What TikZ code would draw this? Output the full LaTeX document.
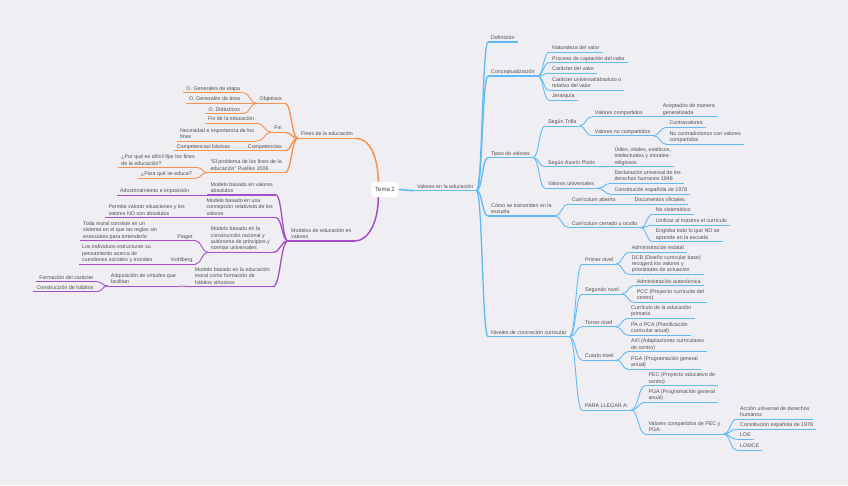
\documentclass[tikz,border=0pt]{standalone}
\usepackage{fontspec}
\setmainfont{Liberation Sans}
\usepackage{xcolor}
\usepackage{tikz}
\usetikzlibrary{calc}

\definecolor{skyb}{RGB}{96,186,246}
\definecolor{orng}{RGB}{246,146,78}
\definecolor{purp}{RGB}{166,78,200}
\definecolor{txt}{RGB}{80,80,80}
\definecolor{bgcol}{RGB}{238,238,243}

\begin{document}
\begin{tikzpicture}[
    x=1pt, y=-1pt,
    every node/.style={font=\fontsize{5.3}{6.4}\selectfont, text=txt},
    topic/.style 2 args={align=left, inner xsep=3pt, inner ysep=1pt,
      execute at end node={\rule[-1.2pt]{0pt}{1pt}},
      append after command={(\tikzlastnode.south west) edge[draw=#1, line width=#2] (\tikzlastnode.south east)}},
    main/.style={topic={#1}{1.5pt}, anchor=south west},
    bm/.style={topic={skyb}{1.1pt}, anchor=south west},
    bt/.style={topic={skyb}{0.8pt}, anchor=south west},
    om/.style={topic={orng}{1.1pt}, anchor=south east},
    ot/.style={topic={orng}{0.8pt}, anchor=south east},
    pm/.style={topic={purp}{1.1pt}, anchor=south east},
    pt/.style={topic={purp}{0.8pt}, anchor=south east},
    root/.style={fill=white, rounded corners=3pt, minimum width=27pt, minimum height=15pt,
      inner sep=1pt, font=\fontsize{6}{7}\selectfont, text=black!75},
    lk/.style={draw=#1, to path={let \p1=(\tikztostart), \p2=(\tikztotarget),
      \n1={(\x2-\x1)/2}, \n2={(\x1-\x2)/2} in
      .. controls +(\n1,0) and +(\n2,0) .. (\tikztotarget)}},
  ]

  \fill[bgcol] (0,0) rectangle (848,485);
  \useasboundingbox (0,0) rectangle (848,485);

  % ---- centre ----
  \node[root] (tema) at (385,189.5) {Tema 2};

  % ---- Valores en la educacion ----
  \node[main=skyb] (valores) at (414,190.7) {Valores en la educación};
  \node[bm] (defin) at (488,42) {Definición};
  \node[bm] (concept) at (488,76) {Conceptualización};
  \node[bt] (natur) at (549,52.3) {Naturaleza del valor};
  \node[bt] (proces) at (549,62.7) {Proceso de captación del valor};
  \node[bt] (caract) at (549,73.3) {Carácter del valor};
  \node[bt] (univ) at (549,90) {Carácter universal/absoluto o\\relativo del valor};
  \node[bt] (jerar) at (549,100) {Jerarquía};

  \node[bm] (tipos) at (488,157.7) {Tipos de valores};
  \node[bt] (trilla) at (545,126) {Según Trilla};
  \node[bt] (vcomp) at (591.7,116.7) {Valores compartidos};
  \node[bt] (acept) at (659.7,116.7) {Aceptados de manera\\generalizada};
  \node[bt] (vnocomp) at (591.7,135.7) {Valores no compartidos};
  \node[bt] (contra) at (666.3,127.3) {Contravalores};
  \node[bt] (nocontra) at (666.3,144.3) {No contradictorios con valores\\compartidos};
  \node[bt] (azorin) at (545,166.7) {Según Azorín Pinós};
  \node[bt] (utiles) at (611.3,166.5) {Útiles, vitales, estéticos,\\intelectuales y morales-\\religiosos};
  \node[bt] (vuniv) at (545,188.3) {Valores universales};
  \node[bt] (declar) at (611.3,183.3) {Declaración universal de los\\derechos humanos 1948};
  \node[bt] (constA) at (611.3,194.3) {Constitución española de 1978};

  \node[bm] (transm) at (488,216) {Cómo se transmiten en la\\escuela};
  \node[bt] (abierto) at (568.7,204) {Currículum abierto};
  \node[bt] (docof) at (631.3,204) {Documentos oficiales};
  \node[bt] (cerrado) at (568.7,227.7) {Currículum cerrado u oculto};
  \node[bt] (nosist) at (652.7,214.3) {No sistemático};
  \node[bt] (unific) at (652.7,225.3) {Unificar al máximo el currículo};
  \node[bt] (englob) at (652.7,241.7) {Engloba todo lo que NO se\\aprende en la escuela};

  \node[bm] (niveles) at (488,336.7) {Niveles de concreción curricular};
  \node[bt] (primer) at (582,264) {Primer nivel};
  \node[bt] (admest) at (628.7,252.3) {Administración estatal};
  \node[bt] (dcb) at (628.7,274.3) {DCB (Diseño curricular base)\\recogerá los valores y\\prioridades de actuación};
  \node[bt] (segundo) at (582,294) {Segundo nivel};
  \node[bt] (admaut) at (633.7,285.7) {Administración autonómica};
  \node[bt] (pcc) at (633.7,302.3) {PCC (Proyecto curricular del\\centro)};
  \node[bt] (tercer) at (582,326.7) {Tercer nivel};
  \node[bt] (curric) at (628,318.3) {Currículo de la educación\\primaria};
  \node[bt] (pa) at (628,335) {PA o PCA (Planificación\\curricular anual)};
  \node[bt] (cuarto) at (582,360) {Cuarto nivel};
  \node[bt] (axi) at (628,351.7) {AXI (Adaptaciones curriculares\\de centro)};
  \node[bt] (pgaA) at (628,369.3) {PGA (Programación general\\anual)};
  \node[bt] (llegar) at (582,410) {PARA LLEGAR A:};
  \node[bt] (pec) at (645.3,385.7) {PEC (Proyecto educativo de\\centro)};
  \node[bt] (pgaB) at (645.3,402.3) {PGA (Programación general\\anual)};
  \node[bt] (vcpec) at (645.3,434) {Valores compartidos de PEC y\\PGA:};
  \node[bt] (accion) at (737,419) {Acción universal de derechos\\humanos};
  \node[bt] (constB) at (737,429.3) {Constitución española de 1978};
  \node[bt] (loe) at (737,439.3) {LOE};
  \node[bt] (lomce) at (737,450) {LOMCE};

  % ---- Fines de la educacion ----
  \node[main=orng] (fines) at (298,138.3) {Fines de la educación};
  \node[om] (objet) at (285,103.3) {Objetivos};
  \node[ot] (ogetapa) at (243.3,92.7) {O. Generales de etapa};
  \node[ot] (ogarea) at (243.3,103.3) {O. Generales de área};
  \node[ot] (odidac) at (243.3,113.7) {O. Didácticos};
  \node[om] (fin) at (285,132.3) {Fin};
  \node[ot] (finedu) at (257.3,123.3) {Fin de la educación};
  \node[ot] (neces) at (257.3,141) {Necesidad e importancia de los\\fines};
  \node[om] (compet) at (285,150.7) {Competencias};
  \node[ot] (compbas) at (233.3,150.7) {Competencias básicas};
  \node[om] (problema) at (285,172.7) {“El problema de los fines de la\\educación” Puelles 2006};
  \node[ot] (porque) at (198,167.7) {¿Por qué es difícil fijar los fines\\de la educación?};
  \node[ot] (paraque) at (195,178.3) {¿Para qué se educa?};

  % ---- Modelos de educacion en valores ----
  \node[main=purp] (modelos) at (288,241) {Modelos de educación en\\valores};
  \node[pm] (mabs) at (276,195) {Modelo basado en valores\\absolutos};
  \node[pt] (adoct) at (192.5,195) {Adoctrinamiento e imposición};
  \node[pm] (mrel) at (276,217.7) {Modelo basado en una\\concepción relativista de los\\valores};
  \node[pt] (permite) at (188,217.7) {Permite valorar situaciones y los\\valores NO son absolutos};
  \node[pm] (mconst) at (273,252.3) {Modelo basado en la\\construcción racional y\\autónoma de principios y\\normas universales};
  \node[pt] (piaget) at (195.7,240.7) {Piaget};
  \node[pt] (toda) at (160.3,240.7) {Toda moral consiste en un\\sistema en el que las reglas sin\\esenciales para entenderlo};
  \node[pt] (kohl) at (195.7,264) {Kohlberg};
  \node[pt] (indiv) at (155.7,264) {Los individuos estructuran su\\pensamiento acerca de\\cuestiones sociales y morales};
  \node[pm] (mhab) at (273,286.7) {Modelo basado en la educación\\moral como formación de\\hábitos virtuosos};
  \node[pt] (adquis) at (179,286) {Adquisición de virtudes que\\facilitan};
  \node[pt] (formac) at (96.7,281.7) {Formación del carácter};
  \node[pt] (constr) at (96.7,291.7) {Construcción de hábitos};

  % ---- links from the centre ----
  \draw[lk=skyb, line width=1.5pt] (tema.east) to (valores.south west);
  \draw[orng, line width=1.5pt] (fines.south east) .. controls +(14,0) and +(0,-24) .. ([xshift=7pt]tema.north west);
  \draw[purp, line width=1.5pt] (modelos.south east) .. controls +(14,0) and +(0,24) .. ([xshift=7pt]tema.south west);

  % ---- right links ----
  \foreach \a/\b in {valores/defin, valores/concept, valores/tipos, valores/transm, valores/niveles}
    \draw[lk=skyb, line width=1.3pt] (\a.south east) to (\b.south west);
  \foreach \a/\b in {concept/natur, concept/proces, concept/caract, concept/univ, concept/jerar,
      tipos/trilla, tipos/azorin, tipos/vuniv, trilla/vcomp, trilla/vnocomp, vcomp/acept,
      vnocomp/contra, vnocomp/nocontra, azorin/utiles, vuniv/declar, vuniv/constA,
      transm/abierto, transm/cerrado, abierto/docof, cerrado/nosist, cerrado/unific, cerrado/englob,
      niveles/primer, niveles/segundo, niveles/tercer, niveles/cuarto, niveles/llegar,
      primer/admest, primer/dcb, segundo/admaut, segundo/pcc, tercer/curric, tercer/pa,
      cuarto/axi, cuarto/pgaA, llegar/pec, llegar/pgaB, llegar/vcpec,
      vcpec/accion, vcpec/constB, vcpec/loe, vcpec/lomce}
    \draw[lk=skyb, line width=0.9pt] (\a.south east) to (\b.south west);

  % ---- left links ----
  \foreach \a/\b in {fines/objet, fines/fin, fines/compet, fines/problema}
    \draw[lk=orng, line width=1.3pt] (\a.south west) to (\b.south east);
  \foreach \a/\b in {objet/ogetapa, objet/ogarea, objet/odidac, fin/finedu, fin/neces,
      compet/compbas, problema/porque, problema/paraque}
    \draw[lk=orng, line width=0.9pt] (\a.south west) to (\b.south east);
  \foreach \a/\b in {modelos/mabs, modelos/mrel, modelos/mconst, modelos/mhab}
    \draw[lk=purp, line width=1.3pt] (\a.south west) to (\b.south east);
  \foreach \a/\b in {mabs/adoct, mrel/permite, mconst/piaget, mconst/kohl, piaget/toda,
      kohl/indiv, mhab/adquis, adquis/formac, adquis/constr}
    \draw[lk=purp, line width=0.9pt] (\a.south west) to (\b.south east);

\end{tikzpicture}
\end{document}
